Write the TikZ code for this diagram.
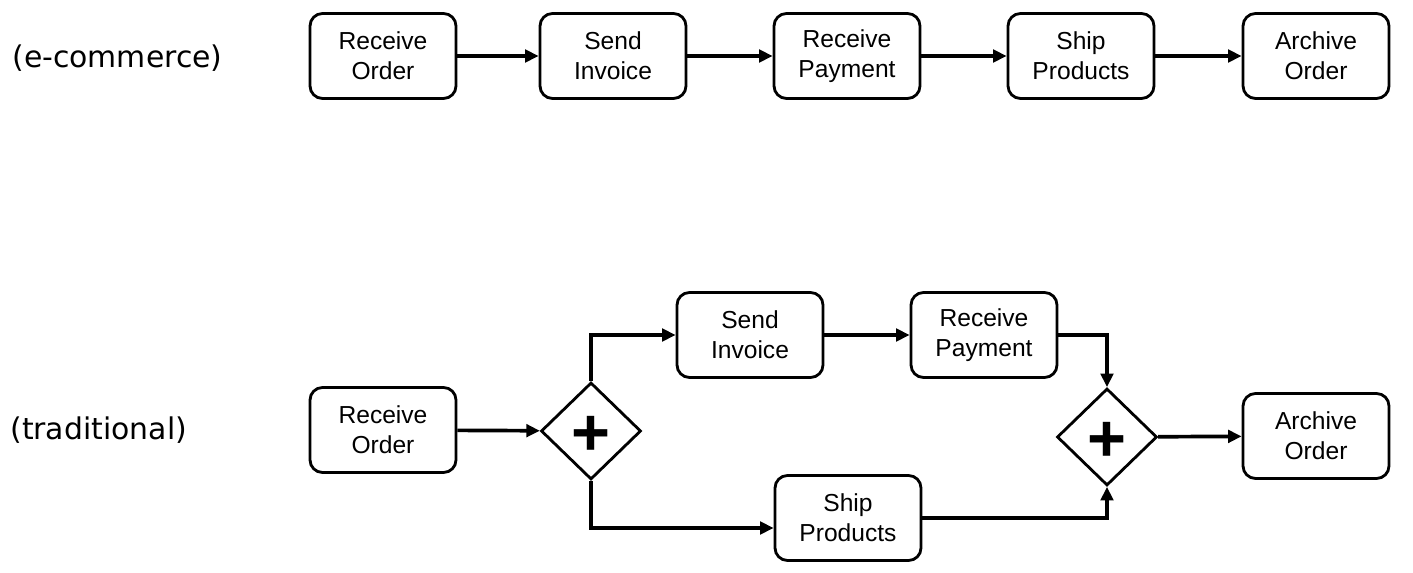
\documentclass[tikz,border=0pt]{standalone}
\usepackage{fontspec}
\setmainfont{Liberation Sans}
\newfontfamily\rowfont{DejaVu Sans}
\usetikzlibrary{arrows.meta,shapes.geometric}

\begin{document}
\begin{tikzpicture}[x=0.02cm,y=-0.02cm,
    flow/.style={line width=2.1pt,-{Triangle[length=0.27cm,width=0.25cm]}}]
        \useasboundingbox (0,0) rectangle (1413,573);

        \begin{scope}[every node/.style={anchor=west,inner sep=0pt,font=\rowfont\fontsize{17}{20}\selectfont}]
          \node (ecom) at (12,58)  {(e-commerce)};
          \node (trad) at (10,430) {(traditional)};
        \end{scope}

        \begin{scope}[every node/.style={draw,rounded corners=0.25cm,line width=1.6pt,
            minimum width=2.92cm,minimum height=1.7cm,align=center,
            font=\fontsize{14}{17}\selectfont}]
          \node (ro1) at (383,56)   {Receive\\Order};
          \node (si1) at (613,56)   {Send\\Invoice};
          \node (rp1) at (847,56)   {Receive\\Payment};
          \node (sp1) at (1081,56)  {Ship\\Products};
          \node (ao1) at (1316,56)  {Archive\\Order};
          \node (ro2) at (383,430)  {Receive\\Order};
          \node (si2) at (750,335)  {Send\\Invoice};
          \node (rp2) at (984,335)  {Receive\\Payment};
          \node (sp2) at (848,518)  {Ship\\Products};
          \node (ao2) at (1316,436) {Archive\\Order};
        \end{scope}

        \begin{scope}[every node/.style={diamond,draw,line width=1.6pt,inner sep=0pt,
            minimum width=2cm,minimum height=1.94cm,text height=28pt,text depth=0pt,
            font=\fontsize{38}{38}\selectfont\bfseries}]
          \node (g1) at (591,431)  {+};
          \node (g2) at (1107,437) {+};
        \end{scope}

        % e-commerce
        \draw[flow] (ro1) -- (si1);
        \draw[flow] (si1) -- (rp1);
        \draw[flow] (rp1) -- (sp1);
        \draw[flow] (sp1) -- (ao1);

        % traditional
        \draw[flow] (ro2) -- (g1);
        \draw[flow] (g1.north) |- (si2);
        \draw[flow] (g1.south) |- ([yshift=-0.2cm]sp2.west);
        \draw[flow] (si2) -- (rp2);
        \draw[flow] (rp2.east) -| (g2.north);
        \draw[flow] (sp2.east) -| (g2.south);
        \draw[flow] (g2) -- (ao2);

      \end{tikzpicture}
\end{document}
